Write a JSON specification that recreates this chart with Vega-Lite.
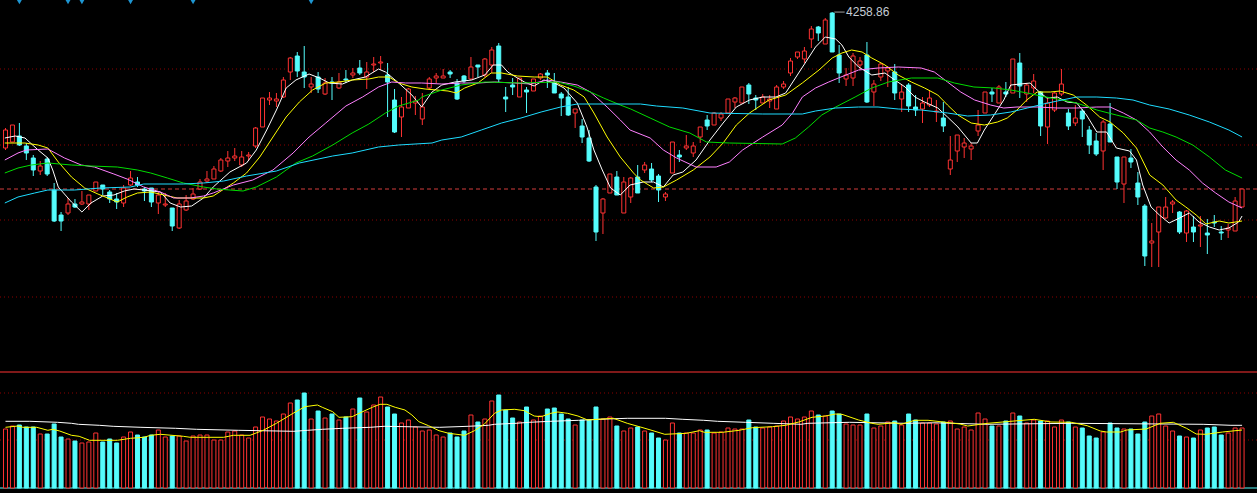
{
  "$schema": "https://vega.github.io/schema/vega-lite/v6.json",
  "description": "K-line chart with moving averages and volume panel",
  "width": 1257,
  "height": 493,
  "padding": 0,
  "autosize": {"type": "none"},
  "background": "#000000",
  "config": {"view": {"stroke": null}},
  "datasets": {
    "k": [
      {"i":0,"o":3987,"h":4027,"l":3983,"c":4023,"v":59,"d":"u"},
      {"i":1,"o":3999,"h":4033,"l":3999,"c":4033,"v":62,"d":"u"},
      {"i":2,"o":4011,"h":4037,"l":3991,"c":3993,"v":63,"d":"d"},
      {"i":3,"o":3991,"h":3997,"l":3963,"c":3977,"v":61,"d":"d"},
      {"i":4,"o":3967,"h":3973,"l":3931,"c":3943,"v":61,"d":"d"},
      {"i":5,"o":3941,"h":3961,"l":3933,"c":3951,"v":54,"d":"u"},
      {"i":6,"o":3965,"h":3969,"l":3931,"c":3935,"v":54,"d":"d"},
      {"i":7,"o":3903,"h":3917,"l":3839,"c":3841,"v":64,"d":"d"},
      {"i":8,"o":3853,"h":3859,"l":3821,"c":3841,"v":51,"d":"d"},
      {"i":9,"o":3857,"h":3887,"l":3853,"c":3875,"v":49,"d":"u"},
      {"i":10,"o":3875,"h":3885,"l":3867,"c":3869,"v":47,"d":"d"},
      {"i":11,"o":3875,"h":3901,"l":3873,"c":3879,"v":45,"d":"u"},
      {"i":12,"o":3875,"h":3893,"l":3863,"c":3893,"v":46,"d":"u"},
      {"i":13,"o":3901,"h":3919,"l":3901,"c":3919,"v":55,"d":"u"},
      {"i":14,"o":3913,"h":3913,"l":3893,"c":3905,"v":46,"d":"d"},
      {"i":15,"o":3899,"h":3903,"l":3877,"c":3885,"v":49,"d":"d"},
      {"i":16,"o":3885,"h":3897,"l":3865,"c":3879,"v":45,"d":"d"},
      {"i":17,"o":3877,"h":3913,"l":3869,"c":3907,"v":51,"d":"u"},
      {"i":18,"o":3913,"h":3941,"l":3911,"c":3927,"v":56,"d":"u"},
      {"i":19,"o":3919,"h":3929,"l":3909,"c":3913,"v":53,"d":"d"},
      {"i":20,"o":3905,"h":3909,"l":3881,"c":3901,"v":51,"d":"d"},
      {"i":21,"o":3907,"h":3907,"l":3869,"c":3879,"v":53,"d":"d"},
      {"i":22,"o":3877,"h":3899,"l":3855,"c":3893,"v":58,"d":"u"},
      {"i":23,"o":3873,"h":3897,"l":3869,"c":3875,"v":51,"d":"u"},
      {"i":24,"o":3867,"h":3867,"l":3821,"c":3831,"v":52,"d":"d"},
      {"i":25,"o":3827,"h":3883,"l":3825,"c":3875,"v":52,"d":"u"},
      {"i":26,"o":3863,"h":3893,"l":3861,"c":3881,"v":47,"d":"u"},
      {"i":27,"o":3885,"h":3907,"l":3883,"c":3895,"v":52,"d":"u"},
      {"i":28,"o":3905,"h":3925,"l":3903,"c":3919,"v":53,"d":"u"},
      {"i":29,"o":3921,"h":3941,"l":3917,"c":3925,"v":53,"d":"u"},
      {"i":30,"o":3925,"h":3951,"l":3925,"c":3945,"v":48,"d":"u"},
      {"i":31,"o":3941,"h":3967,"l":3939,"c":3963,"v":48,"d":"u"},
      {"i":32,"o":3961,"h":3981,"l":3949,"c":3967,"v":56,"d":"u"},
      {"i":33,"o":3967,"h":3987,"l":3961,"c":3971,"v":57,"d":"u"},
      {"i":34,"o":3953,"h":3981,"l":3949,"c":3969,"v":53,"d":"u"},
      {"i":35,"o":3971,"h":3979,"l":3961,"c":3973,"v":50,"d":"u"},
      {"i":36,"o":3991,"h":4029,"l":3987,"c":4027,"v":61,"d":"u"},
      {"i":37,"o":4029,"h":4087,"l":4029,"c":4087,"v":71,"d":"u"},
      {"i":38,"o":4083,"h":4099,"l":4073,"c":4087,"v":69,"d":"u"},
      {"i":39,"o":4081,"h":4097,"l":4069,"c":4085,"v":67,"d":"u"},
      {"i":40,"o":4089,"h":4129,"l":4087,"c":4123,"v":74,"d":"u"},
      {"i":41,"o":4139,"h":4169,"l":4123,"c":4167,"v":85,"d":"u"},
      {"i":42,"o":4171,"h":4179,"l":4129,"c":4141,"v":88,"d":"d"},
      {"i":43,"o":4139,"h":4191,"l":4107,"c":4129,"v":95,"d":"d"},
      {"i":44,"o":4109,"h":4129,"l":4097,"c":4115,"v":69,"d":"u"},
      {"i":45,"o":4129,"h":4139,"l":4097,"c":4105,"v":77,"d":"d"},
      {"i":46,"o":4095,"h":4127,"l":4093,"c":4117,"v":70,"d":"u"},
      {"i":47,"o":4119,"h":4129,"l":4083,"c":4117,"v":74,"d":"d"},
      {"i":48,"o":4107,"h":4137,"l":4105,"c":4119,"v":68,"d":"u"},
      {"i":49,"o":4125,"h":4143,"l":4117,"c":4123,"v":71,"d":"d"},
      {"i":50,"o":4133,"h":4147,"l":4127,"c":4137,"v":79,"d":"u"},
      {"i":51,"o":4147,"h":4163,"l":4133,"c":4137,"v":90,"d":"d"},
      {"i":52,"o":4129,"h":4159,"l":4105,"c":4139,"v":76,"d":"u"},
      {"i":53,"o":4153,"h":4169,"l":4139,"c":4155,"v":83,"d":"u"},
      {"i":54,"o":4157,"h":4171,"l":4143,"c":4159,"v":91,"d":"u"},
      {"i":55,"o":4133,"h":4157,"l":4049,"c":4119,"v":81,"d":"d"},
      {"i":56,"o":4083,"h":4105,"l":4017,"c":4019,"v":74,"d":"d"},
      {"i":57,"o":4049,"h":4089,"l":4009,"c":4069,"v":65,"d":"u"},
      {"i":58,"o":4067,"h":4107,"l":4067,"c":4105,"v":68,"d":"u"},
      {"i":59,"o":4077,"h":4091,"l":4053,"c":4081,"v":61,"d":"u"},
      {"i":60,"o":4045,"h":4097,"l":4033,"c":4069,"v":57,"d":"u"},
      {"i":61,"o":4107,"h":4129,"l":4103,"c":4125,"v":58,"d":"u"},
      {"i":62,"o":4127,"h":4137,"l":4117,"c":4131,"v":53,"d":"u"},
      {"i":63,"o":4127,"h":4145,"l":4127,"c":4131,"v":51,"d":"u"},
      {"i":64,"o":4139,"h":4143,"l":4127,"c":4135,"v":55,"d":"d"},
      {"i":65,"o":4117,"h":4125,"l":4083,"c":4085,"v":51,"d":"d"},
      {"i":66,"o":4131,"h":4133,"l":4117,"c":4121,"v":57,"d":"d"},
      {"i":67,"o":4125,"h":4169,"l":4123,"c":4149,"v":73,"d":"u"},
      {"i":68,"o":4153,"h":4153,"l":4129,"c":4149,"v":66,"d":"d"},
      {"i":69,"o":4133,"h":4167,"l":4129,"c":4165,"v":69,"d":"u"},
      {"i":70,"o":4153,"h":4189,"l":4137,"c":4183,"v":87,"d":"u"},
      {"i":71,"o":4191,"h":4197,"l":4117,"c":4125,"v":93,"d":"d"},
      {"i":72,"o":4089,"h":4109,"l":4059,"c":4085,"v":78,"d":"d"},
      {"i":73,"o":4113,"h":4127,"l":4093,"c":4109,"v":70,"d":"d"},
      {"i":74,"o":4089,"h":4127,"l":4089,"c":4127,"v":66,"d":"u"},
      {"i":75,"o":4103,"h":4109,"l":4057,"c":4099,"v":81,"d":"d"},
      {"i":76,"o":4101,"h":4125,"l":4101,"c":4125,"v":68,"d":"u"},
      {"i":77,"o":4127,"h":4137,"l":4123,"c":4135,"v":72,"d":"u"},
      {"i":78,"o":4137,"h":4143,"l":4107,"c":4133,"v":79,"d":"d"},
      {"i":79,"o":4117,"h":4137,"l":4097,"c":4097,"v":80,"d":"d"},
      {"i":80,"o":4095,"h":4099,"l":4051,"c":4087,"v":74,"d":"d"},
      {"i":81,"o":4089,"h":4109,"l":4051,"c":4053,"v":69,"d":"d"},
      {"i":82,"o":4057,"h":4065,"l":4027,"c":4065,"v":63,"d":"u"},
      {"i":83,"o":4031,"h":4045,"l":3997,"c":4009,"v":68,"d":"d"},
      {"i":84,"o":4007,"h":4023,"l":3959,"c":3961,"v":68,"d":"d"},
      {"i":85,"o":3909,"h":3913,"l":3801,"c":3819,"v":81,"d":"d"},
      {"i":86,"o":3857,"h":3887,"l":3815,"c":3885,"v":69,"d":"u"},
      {"i":87,"o":3897,"h":3935,"l":3897,"c":3935,"v":71,"d":"u"},
      {"i":88,"o":3929,"h":3941,"l":3893,"c":3893,"v":62,"d":"d"},
      {"i":89,"o":3857,"h":3929,"l":3857,"c":3919,"v":57,"d":"u"},
      {"i":90,"o":3889,"h":3929,"l":3877,"c":3927,"v":60,"d":"u"},
      {"i":91,"o":3929,"h":3953,"l":3897,"c":3897,"v":61,"d":"d"},
      {"i":92,"o":3943,"h":3959,"l":3937,"c":3953,"v":57,"d":"u"},
      {"i":93,"o":3945,"h":3957,"l":3919,"c":3923,"v":55,"d":"d"},
      {"i":94,"o":3931,"h":3935,"l":3879,"c":3903,"v":50,"d":"d"},
      {"i":95,"o":3889,"h":3899,"l":3881,"c":3895,"v":48,"d":"u"},
      {"i":96,"o":3937,"h":3999,"l":3937,"c":3999,"v":65,"d":"u"},
      {"i":97,"o":3973,"h":3983,"l":3959,"c":3969,"v":55,"d":"d"},
      {"i":98,"o":3987,"h":4013,"l":3983,"c":3991,"v":55,"d":"u"},
      {"i":99,"o":3977,"h":3999,"l":3969,"c":3991,"v":55,"d":"u"},
      {"i":100,"o":4009,"h":4029,"l":3997,"c":4029,"v":58,"d":"u"},
      {"i":101,"o":4043,"h":4053,"l":4023,"c":4031,"v":58,"d":"d"},
      {"i":102,"o":4033,"h":4059,"l":4033,"c":4057,"v":55,"d":"u"},
      {"i":103,"o":4047,"h":4059,"l":4041,"c":4055,"v":56,"d":"u"},
      {"i":104,"o":4057,"h":4085,"l":4057,"c":4085,"v":60,"d":"u"},
      {"i":105,"o":4079,"h":4089,"l":4067,"c":4087,"v":59,"d":"u"},
      {"i":106,"o":4077,"h":4109,"l":4077,"c":4109,"v":59,"d":"u"},
      {"i":107,"o":4113,"h":4117,"l":4075,"c":4095,"v":68,"d":"d"},
      {"i":108,"o":4087,"h":4093,"l":4063,"c":4083,"v":61,"d":"d"},
      {"i":109,"o":4077,"h":4095,"l":4077,"c":4089,"v":60,"d":"u"},
      {"i":110,"o":4081,"h":4093,"l":4067,"c":4085,"v":61,"d":"u"},
      {"i":111,"o":4065,"h":4113,"l":4065,"c":4109,"v":62,"d":"u"},
      {"i":112,"o":4109,"h":4121,"l":4105,"c":4115,"v":67,"d":"u"},
      {"i":113,"o":4137,"h":4167,"l":4131,"c":4161,"v":71,"d":"u"},
      {"i":114,"o":4169,"h":4179,"l":4165,"c":4179,"v":69,"d":"u"},
      {"i":115,"o":4165,"h":4189,"l":4157,"c":4181,"v":71,"d":"u"},
      {"i":116,"o":4205,"h":4231,"l":4187,"c":4225,"v":77,"d":"u"},
      {"i":117,"o":4229,"h":4231,"l":4201,"c":4217,"v":73,"d":"d"},
      {"i":118,"o":4195,"h":4247,"l":4195,"c":4243,"v":72,"d":"u"},
      {"i":119,"o":4257,"h":4258.86,"l":4179,"c":4179,"v":77,"d":"d"},
      {"i":120,"o":4173,"h":4193,"l":4117,"c":4137,"v":74,"d":"d"},
      {"i":121,"o":4125,"h":4147,"l":4111,"c":4133,"v":64,"d":"u"},
      {"i":122,"o":4127,"h":4177,"l":4111,"c":4171,"v":63,"d":"u"},
      {"i":123,"o":4153,"h":4169,"l":4143,"c":4161,"v":63,"d":"u"},
      {"i":124,"o":4173,"h":4199,"l":4077,"c":4079,"v":74,"d":"d"},
      {"i":125,"o":4099,"h":4123,"l":4071,"c":4115,"v":60,"d":"u"},
      {"i":126,"o":4129,"h":4157,"l":4121,"c":4155,"v":62,"d":"u"},
      {"i":127,"o":4141,"h":4151,"l":4109,"c":4147,"v":66,"d":"u"},
      {"i":128,"o":4139,"h":4155,"l":4083,"c":4097,"v":67,"d":"d"},
      {"i":129,"o":4085,"h":4113,"l":4059,"c":4099,"v":63,"d":"u"},
      {"i":130,"o":4113,"h":4117,"l":4059,"c":4071,"v":74,"d":"d"},
      {"i":131,"o":4069,"h":4093,"l":4051,"c":4063,"v":68,"d":"d"},
      {"i":132,"o":4065,"h":4089,"l":4037,"c":4077,"v":65,"d":"u"},
      {"i":133,"o":4073,"h":4103,"l":4069,"c":4087,"v":65,"d":"u"},
      {"i":134,"o":4059,"h":4083,"l":4039,"c":4061,"v":64,"d":"u"},
      {"i":135,"o":4047,"h":4079,"l":4019,"c":4031,"v":66,"d":"d"},
      {"i":136,"o":3945,"h":4011,"l":3933,"c":3963,"v":67,"d":"u"},
      {"i":137,"o":3981,"h":4013,"l":3959,"c":4013,"v":59,"d":"u"},
      {"i":138,"o":3989,"h":4007,"l":3967,"c":3997,"v":61,"d":"u"},
      {"i":139,"o":3985,"h":3997,"l":3963,"c":3991,"v":58,"d":"u"},
      {"i":140,"o":4021,"h":4063,"l":4011,"c":4033,"v":75,"d":"u"},
      {"i":141,"o":4057,"h":4099,"l":4057,"c":4099,"v":69,"d":"u"},
      {"i":142,"o":4099,"h":4107,"l":4079,"c":4095,"v":62,"d":"d"},
      {"i":143,"o":4077,"h":4113,"l":4077,"c":4109,"v":62,"d":"u"},
      {"i":144,"o":4099,"h":4119,"l":4089,"c":4095,"v":67,"d":"d"},
      {"i":145,"o":4097,"h":4165,"l":4097,"c":4165,"v":75,"d":"u"},
      {"i":146,"o":4157,"h":4177,"l":4087,"c":4111,"v":72,"d":"d"},
      {"i":147,"o":4095,"h":4117,"l":4079,"c":4113,"v":65,"d":"u"},
      {"i":148,"o":4107,"h":4135,"l":4097,"c":4121,"v":68,"d":"u"},
      {"i":149,"o":4099,"h":4101,"l":4011,"c":4031,"v":67,"d":"d"},
      {"i":150,"o":4029,"h":4087,"l":3995,"c":4077,"v":67,"d":"u"},
      {"i":151,"o":4063,"h":4099,"l":4059,"c":4097,"v":61,"d":"u"},
      {"i":152,"o":4095,"h":4145,"l":4091,"c":4115,"v":68,"d":"u"},
      {"i":153,"o":4057,"h":4065,"l":4023,"c":4031,"v":66,"d":"d"},
      {"i":154,"o":4037,"h":4073,"l":4031,"c":4047,"v":61,"d":"u"},
      {"i":155,"o":4061,"h":4065,"l":4009,"c":4045,"v":60,"d":"d"},
      {"i":156,"o":4023,"h":4031,"l":3975,"c":3993,"v":52,"d":"d"},
      {"i":157,"o":4001,"h":4017,"l":3971,"c":3975,"v":50,"d":"d"},
      {"i":158,"o":3981,"h":4043,"l":3943,"c":4039,"v":56,"d":"u"},
      {"i":159,"o":4035,"h":4077,"l":3999,"c":3999,"v":65,"d":"d"},
      {"i":160,"o":3969,"h":3969,"l":3905,"c":3919,"v":60,"d":"d"},
      {"i":161,"o":3915,"h":3969,"l":3877,"c":3969,"v":59,"d":"u"},
      {"i":162,"o":3967,"h":3985,"l":3947,"c":3959,"v":59,"d":"d"},
      {"i":163,"o":3917,"h":3939,"l":3873,"c":3889,"v":54,"d":"d"},
      {"i":164,"o":3871,"h":3875,"l":3751,"c":3771,"v":66,"d":"d"},
      {"i":165,"o":3797,"h":3837,"l":3749,"c":3801,"v":72,"d":"u"},
      {"i":166,"o":3819,"h":3869,"l":3749,"c":3869,"v":74,"d":"u"},
      {"i":167,"o":3847,"h":3889,"l":3845,"c":3869,"v":62,"d":"u"},
      {"i":168,"o":3875,"h":3883,"l":3857,"c":3879,"v":57,"d":"u"},
      {"i":169,"o":3859,"h":3861,"l":3815,"c":3819,"v":52,"d":"d"},
      {"i":170,"o":3817,"h":3863,"l":3799,"c":3861,"v":51,"d":"u"},
      {"i":171,"o":3829,"h":3851,"l":3799,"c":3819,"v":50,"d":"d"},
      {"i":172,"o":3831,"h":3851,"l":3789,"c":3833,"v":58,"d":"u"},
      {"i":173,"o":3817,"h":3845,"l":3775,"c":3813,"v":60,"d":"d"},
      {"i":174,"o":3839,"h":3853,"l":3829,"c":3837,"v":61,"d":"d"},
      {"i":175,"o":3819,"h":3831,"l":3803,"c":3817,"v":53,"d":"d"},
      {"i":176,"o":3823,"h":3835,"l":3807,"c":3827,"v":55,"d":"u"},
      {"i":177,"o":3821,"h":3889,"l":3821,"c":3881,"v":60,"d":"u"},
      {"i":178,"o":3869,"h":3905,"l":3869,"c":3905,"v":60,"d":"u"}
    ],
    "ma": [
      {"i":-0.1,"m":"MA5","p":4007},{"i":1.4,"m":"MA5","p":4011},{"i":2.8,"m":"MA5","p":4007},{"i":4.7,"m":"MA5","p":3983},
      {"i":6.1,"m":"MA5","p":3967},{"i":6.8,"m":"MA5","p":3943},{"i":7.6,"m":"MA5","p":3909},{"i":9.5,"m":"MA5","p":3879},
      {"i":11,"m":"MA5","p":3859},{"i":12.3,"m":"MA5","p":3877},{"i":14,"m":"MA5","p":3891},{"i":15.6,"m":"MA5","p":3893},
      {"i":17.1,"m":"MA5","p":3901},{"i":18.5,"m":"MA5","p":3905},{"i":19.9,"m":"MA5","p":3903},{"i":22.3,"m":"MA5","p":3899},
      {"i":23.7,"m":"MA5","p":3877},{"i":25.2,"m":"MA5","p":3869},{"i":26.8,"m":"MA5","p":3871},{"i":28.5,"m":"MA5","p":3887},
      {"i":29.9,"m":"MA5","p":3909},{"i":32.3,"m":"MA5","p":3939},{"i":34.7,"m":"MA5","p":3957},{"i":36.1,"m":"MA5","p":3983},
      {"i":37.6,"m":"MA5","p":4023},{"i":39,"m":"MA5","p":4063},{"i":40.4,"m":"MA5","p":4107},{"i":41.8,"m":"MA5","p":4123},
      {"i":43.7,"m":"MA5","p":4135},{"i":45.2,"m":"MA5","p":4127},{"i":46.6,"m":"MA5","p":4117},{"i":48.5,"m":"MA5","p":4115},
      {"i":49.9,"m":"MA5","p":4123},{"i":51.8,"m":"MA5","p":4129},{"i":53.7,"m":"MA5","p":4145},{"i":54.7,"m":"MA5","p":4139},
      {"i":56.6,"m":"MA5","p":4117},{"i":58.5,"m":"MA5","p":4093},{"i":59.9,"m":"MA5","p":4069},{"i":61.4,"m":"MA5","p":4099},
      {"i":62.8,"m":"MA5","p":4113},{"i":64.7,"m":"MA5","p":4119},{"i":67.1,"m":"MA5","p":4123},{"i":69,"m":"MA5","p":4133},
      {"i":70.2,"m":"MA5","p":4153},{"i":71.4,"m":"MA5","p":4153},{"i":72.3,"m":"MA5","p":4139},{"i":73.7,"m":"MA5","p":4127},
      {"i":74.7,"m":"MA5","p":4119},{"i":76.1,"m":"MA5","p":4111},{"i":77.5,"m":"MA5","p":4123},{"i":79,"m":"MA5","p":4117},
      {"i":80.4,"m":"MA5","p":4107},{"i":82.3,"m":"MA5","p":4077},{"i":83.7,"m":"MA5","p":4029},{"i":84.7,"m":"MA5","p":3983},
      {"i":85.9,"m":"MA5","p":3943},{"i":87.1,"m":"MA5","p":3907},{"i":88.5,"m":"MA5","p":3893},{"i":89.9,"m":"MA5","p":3913},
      {"i":91.8,"m":"MA5","p":3919},{"i":93.3,"m":"MA5","p":3919},{"i":94.7,"m":"MA5","p":3909},{"i":96.1,"m":"MA5","p":3933},
      {"i":97.5,"m":"MA5","p":3939},{"i":99.4,"m":"MA5","p":3963},{"i":101.4,"m":"MA5","p":4003},{"i":103.3,"m":"MA5","p":4037},
      {"i":105.2,"m":"MA5","p":4069},{"i":107.1,"m":"MA5","p":4083},{"i":109,"m":"MA5","p":4089},{"i":110.9,"m":"MA5","p":4089},
      {"i":112.3,"m":"MA5","p":4097},{"i":113.7,"m":"MA5","p":4127},{"i":115.2,"m":"MA5","p":4159},{"i":116.6,"m":"MA5","p":4189},
      {"i":118,"m":"MA5","p":4209},{"i":119.5,"m":"MA5","p":4205},{"i":120.4,"m":"MA5","p":4193},{"i":121.4,"m":"MA5","p":4169},
      {"i":122.8,"m":"MA5","p":4149},{"i":124.7,"m":"MA5","p":4133},{"i":126.6,"m":"MA5","p":4137},{"i":128,"m":"MA5","p":4123},
      {"i":129.5,"m":"MA5","p":4109},{"i":130.9,"m":"MA5","p":4089},{"i":132.3,"m":"MA5","p":4079},{"i":134.2,"m":"MA5","p":4067},
      {"i":135.6,"m":"MA5","p":4049},{"i":137.1,"m":"MA5","p":4029},{"i":139,"m":"MA5","p":3997},{"i":139.9,"m":"MA5","p":3997},
      {"i":140.9,"m":"MA5","p":4023},{"i":142.3,"m":"MA5","p":4053},{"i":143.7,"m":"MA5","p":4083},{"i":144.7,"m":"MA5","p":4113},
      {"i":146.1,"m":"MA5","p":4115},{"i":147.5,"m":"MA5","p":4117},{"i":148.5,"m":"MA5","p":4103},{"i":149.9,"m":"MA5","p":4087},
      {"i":151.4,"m":"MA5","p":4089},{"i":152.8,"m":"MA5","p":4079},{"i":154.2,"m":"MA5","p":4077},{"i":155.6,"m":"MA5","p":4053},
      {"i":157.1,"m":"MA5","p":4019},{"i":158.5,"m":"MA5","p":4019},{"i":159.9,"m":"MA5","p":3987},{"i":161.8,"m":"MA5","p":3981},
      {"i":162.8,"m":"MA5","p":3963},{"i":163.7,"m":"MA5","p":3913},{"i":164.9,"m":"MA5","p":3869},{"i":166.1,"m":"MA5","p":3853},
      {"i":167.5,"m":"MA5","p":3837},{"i":169,"m":"MA5","p":3847},{"i":170.4,"m":"MA5","p":3857},{"i":171.8,"m":"MA5","p":3839},
      {"i":173.3,"m":"MA5","p":3829},{"i":174.7,"m":"MA5","p":3823},{"i":176.1,"m":"MA5","p":3827},{"i":177.5,"m":"MA5","p":3839},
      {"i":178,"m":"MA5","p":3851},

      {"i":-0.1,"m":"MA10","p":3997},{"i":2.8,"m":"MA10","p":3997},{"i":4.7,"m":"MA10","p":3993},{"i":6.1,"m":"MA10","p":3987},
      {"i":7.6,"m":"MA10","p":3959},{"i":9.5,"m":"MA10","p":3929},{"i":11.4,"m":"MA10","p":3907},{"i":13.3,"m":"MA10","p":3895},
      {"i":14.7,"m":"MA10","p":3887},{"i":16.1,"m":"MA10","p":3879},{"i":17.5,"m":"MA10","p":3889},{"i":19,"m":"MA10","p":3897},
      {"i":20.9,"m":"MA10","p":3899},{"i":22.8,"m":"MA10","p":3893},{"i":24.7,"m":"MA10","p":3887},{"i":28.5,"m":"MA10","p":3887},
      {"i":29.9,"m":"MA10","p":3891},{"i":32.8,"m":"MA10","p":3917},{"i":34.7,"m":"MA10","p":3937},{"i":36.6,"m":"MA10","p":3969},
      {"i":38.5,"m":"MA10","p":4009},{"i":40.4,"m":"MA10","p":4049},{"i":42.3,"m":"MA10","p":4079},{"i":44.2,"m":"MA10","p":4103},
      {"i":46.1,"m":"MA10","p":4117},{"i":48,"m":"MA10","p":4119},{"i":49.9,"m":"MA10","p":4123},{"i":52.3,"m":"MA10","p":4125},
      {"i":53.7,"m":"MA10","p":4129},{"i":55.2,"m":"MA10","p":4129},{"i":56.6,"m":"MA10","p":4117},{"i":58.5,"m":"MA10","p":4109},
      {"i":60.4,"m":"MA10","p":4105},{"i":63.7,"m":"MA10","p":4101},{"i":64.9,"m":"MA10","p":4097},{"i":66.1,"m":"MA10","p":4107},
      {"i":68,"m":"MA10","p":4117},{"i":69.9,"m":"MA10","p":4137},{"i":71.4,"m":"MA10","p":4137},{"i":73.7,"m":"MA10","p":4131},
      {"i":76.1,"m":"MA10","p":4129},{"i":78,"m":"MA10","p":4129},{"i":79.9,"m":"MA10","p":4113},{"i":81.8,"m":"MA10","p":4103},
      {"i":83.3,"m":"MA10","p":4089},{"i":84.7,"m":"MA10","p":4057},{"i":86.6,"m":"MA10","p":4009},{"i":88.5,"m":"MA10","p":3969},
      {"i":90.4,"m":"MA10","p":3937},{"i":91.4,"m":"MA10","p":3923},{"i":93.3,"m":"MA10","p":3907},{"i":94.7,"m":"MA10","p":3909},
      {"i":96.6,"m":"MA10","p":3923},{"i":99,"m":"MA10","p":3943},{"i":101.4,"m":"MA10","p":3969},{"i":103.3,"m":"MA10","p":3997},
      {"i":105.2,"m":"MA10","p":4033},{"i":107.1,"m":"MA10","p":4057},{"i":109.9,"m":"MA10","p":4083},{"i":112.3,"m":"MA10","p":4093},
      {"i":114.7,"m":"MA10","p":4117},{"i":117.1,"m":"MA10","p":4143},{"i":119,"m":"MA10","p":4167},{"i":120.4,"m":"MA10","p":4177},
      {"i":121.8,"m":"MA10","p":4183},{"i":123.3,"m":"MA10","p":4179},{"i":124.7,"m":"MA10","p":4167},{"i":126.6,"m":"MA10","p":4153},
      {"i":128.5,"m":"MA10","p":4133},{"i":130.4,"m":"MA10","p":4119},{"i":132.3,"m":"MA10","p":4107},{"i":134.2,"m":"MA10","p":4093},
      {"i":135.6,"m":"MA10","p":4073},{"i":137.1,"m":"MA10","p":4053},{"i":139,"m":"MA10","p":4037},{"i":140.9,"m":"MA10","p":4033},
      {"i":142.8,"m":"MA10","p":4039},{"i":144.2,"m":"MA10","p":4047},{"i":145.6,"m":"MA10","p":4063},{"i":147,"m":"MA10","p":4083},
      {"i":148.5,"m":"MA10","p":4099},{"i":150.4,"m":"MA10","p":4099},{"i":151.8,"m":"MA10","p":4101},{"i":153.7,"m":"MA10","p":4093},
      {"i":155.6,"m":"MA10","p":4073},{"i":157.5,"m":"MA10","p":4049},{"i":159,"m":"MA10","p":4039},{"i":160.9,"m":"MA10","p":4017},
      {"i":162.8,"m":"MA10","p":3987},{"i":164.7,"m":"MA10","p":3933},{"i":166.6,"m":"MA10","p":3913},{"i":168.5,"m":"MA10","p":3883},
      {"i":169.9,"m":"MA10","p":3869},{"i":171.4,"m":"MA10","p":3853},{"i":172.8,"m":"MA10","p":3835},{"i":174.7,"m":"MA10","p":3841},
      {"i":176.1,"m":"MA10","p":3837},{"i":178,"m":"MA10","p":3841},

      {"i":-0.1,"m":"MA20","p":3963},{"i":1.8,"m":"MA20","p":3977},{"i":3,"m":"MA20","p":3983},{"i":6.1,"m":"MA20","p":3985},
      {"i":8.5,"m":"MA20","p":3967},{"i":10.9,"m":"MA20","p":3953},{"i":12.8,"m":"MA20","p":3949},{"i":15.6,"m":"MA20","p":3935},
      {"i":17.5,"m":"MA20","p":3925},{"i":19.9,"m":"MA20","p":3909},{"i":22.3,"m":"MA20","p":3899},{"i":24.2,"m":"MA20","p":3887},
      {"i":26.6,"m":"MA20","p":3887},{"i":28.5,"m":"MA20","p":3891},{"i":29.9,"m":"MA20","p":3897},{"i":32.8,"m":"MA20","p":3913},
      {"i":35.6,"m":"MA20","p":3923},{"i":38.5,"m":"MA20","p":3943},{"i":41.4,"m":"MA20","p":3977},{"i":43.7,"m":"MA20","p":4009},
      {"i":46.1,"m":"MA20","p":4037},{"i":49,"m":"MA20","p":4071},{"i":51.4,"m":"MA20","p":4089},{"i":53.7,"m":"MA20","p":4109},
      {"i":55.6,"m":"MA20","p":4119},{"i":57.6,"m":"MA20","p":4117},{"i":59.9,"m":"MA20","p":4117},{"i":62.8,"m":"MA20","p":4115},
      {"i":65.6,"m":"MA20","p":4117},{"i":68,"m":"MA20","p":4117},{"i":70.4,"m":"MA20","p":4119},{"i":73.3,"m":"MA20","p":4117},
      {"i":75.6,"m":"MA20","p":4115},{"i":78,"m":"MA20","p":4123},{"i":79.9,"m":"MA20","p":4119},{"i":82.3,"m":"MA20","p":4113},
      {"i":84.2,"m":"MA20","p":4099},{"i":86.6,"m":"MA20","p":4069},{"i":88.5,"m":"MA20","p":4043},{"i":89.9,"m":"MA20","p":4023},
      {"i":92.8,"m":"MA20","p":4007},{"i":94.7,"m":"MA20","p":3983},{"i":96.6,"m":"MA20","p":3967},{"i":99.4,"m":"MA20","p":3949},
      {"i":102.3,"m":"MA20","p":3949},{"i":104.2,"m":"MA20","p":3959},{"i":106.1,"m":"MA20","p":3983},{"i":109,"m":"MA20","p":4009},
      {"i":111.8,"m":"MA20","p":4033},{"i":113.3,"m":"MA20","p":4057},{"i":114.7,"m":"MA20","p":4089},{"i":116.6,"m":"MA20","p":4107},
      {"i":118.5,"m":"MA20","p":4119},{"i":119.9,"m":"MA20","p":4127},{"i":122.8,"m":"MA20","p":4143},{"i":125.6,"m":"MA20","p":4147},
      {"i":128.5,"m":"MA20","p":4149},{"i":131.8,"m":"MA20","p":4147},{"i":133.7,"m":"MA20","p":4139},{"i":135.6,"m":"MA20","p":4119},
      {"i":137.5,"m":"MA20","p":4099},{"i":139.5,"m":"MA20","p":4083},{"i":141.8,"m":"MA20","p":4073},{"i":143.7,"m":"MA20","p":4067},
      {"i":145.6,"m":"MA20","p":4069},{"i":148.5,"m":"MA20","p":4069},{"i":151.4,"m":"MA20","p":4067},{"i":154.2,"m":"MA20","p":4067},
      {"i":157.1,"m":"MA20","p":4069},{"i":159,"m":"MA20","p":4069},{"i":160.9,"m":"MA20","p":4057},{"i":162.8,"m":"MA20","p":4043},
      {"i":164.7,"m":"MA20","p":4019},{"i":166.6,"m":"MA20","p":3989},{"i":168.5,"m":"MA20","p":3963},{"i":170.4,"m":"MA20","p":3943},
      {"i":172.3,"m":"MA20","p":3917},{"i":174.2,"m":"MA20","p":3897},{"i":176.1,"m":"MA20","p":3879},{"i":178,"m":"MA20","p":3867},

      {"i":-0.1,"m":"MA30","p":3937},{"i":1.8,"m":"MA30","p":3947},{"i":3.7,"m":"MA30","p":3953},{"i":6.1,"m":"MA30","p":3957},
      {"i":9.5,"m":"MA30","p":3953},{"i":12.3,"m":"MA30","p":3951},{"i":16.1,"m":"MA30","p":3949},{"i":19,"m":"MA30","p":3943},
      {"i":20.9,"m":"MA30","p":3937},{"i":23.3,"m":"MA30","p":3927},{"i":25.6,"m":"MA30","p":3917},{"i":28.5,"m":"MA30","p":3909},
      {"i":30.4,"m":"MA30","p":3905},{"i":34.2,"m":"MA30","p":3901},{"i":36.1,"m":"MA30","p":3909},{"i":39,"m":"MA30","p":3929},
      {"i":41.8,"m":"MA30","p":3957},{"i":44.2,"m":"MA30","p":3971},{"i":47.1,"m":"MA30","p":3993},{"i":49.9,"m":"MA30","p":4017},
      {"i":52.3,"m":"MA30","p":4035},{"i":54.7,"m":"MA30","p":4057},{"i":56.6,"m":"MA30","p":4071},{"i":59.5,"m":"MA30","p":4083},
      {"i":59.9,"m":"MA30","p":4089},{"i":62.8,"m":"MA30","p":4103},{"i":65.6,"m":"MA30","p":4113},{"i":69,"m":"MA30","p":4119},
      {"i":74.2,"m":"MA30","p":4117},{"i":79.5,"m":"MA30","p":4119},{"i":81.8,"m":"MA30","p":4111},{"i":84.2,"m":"MA30","p":4099},
      {"i":86.1,"m":"MA30","p":4087},{"i":88.5,"m":"MA30","p":4073},{"i":90,"m":"MA30","p":4065},{"i":92.8,"m":"MA30","p":4047},
      {"i":95.6,"m":"MA30","p":4029},{"i":98.5,"m":"MA30","p":4017},{"i":100.9,"m":"MA30","p":3999},{"i":104.2,"m":"MA30","p":3997},
      {"i":111.8,"m":"MA30","p":3995},{"i":113.7,"m":"MA30","p":4007},{"i":115.6,"m":"MA30","p":4029},{"i":117.5,"m":"MA30","p":4053},
      {"i":119.5,"m":"MA30","p":4069},{"i":122.3,"m":"MA30","p":4089},{"i":124.7,"m":"MA30","p":4107},{"i":127.1,"m":"MA30","p":4119},
      {"i":130.4,"m":"MA30","p":4127},{"i":134.2,"m":"MA30","p":4127},{"i":136.6,"m":"MA30","p":4117},{"i":139.4,"m":"MA30","p":4109},
      {"i":142.3,"m":"MA30","p":4107},{"i":144.7,"m":"MA30","p":4103},{"i":147.1,"m":"MA30","p":4097},{"i":149,"m":"MA30","p":4091},
      {"i":151.4,"m":"MA30","p":4085},{"i":154.2,"m":"MA30","p":4077},{"i":157.1,"m":"MA30","p":4063},{"i":159.9,"m":"MA30","p":4053},
      {"i":162.8,"m":"MA30","p":4043},{"i":164.7,"m":"MA30","p":4027},{"i":166.6,"m":"MA30","p":4019},{"i":168.5,"m":"MA30","p":4009},
      {"i":170.9,"m":"MA30","p":3993},{"i":173.3,"m":"MA30","p":3969},{"i":175.6,"m":"MA30","p":3943},{"i":178,"m":"MA30","p":3927},

      {"i":-0.1,"m":"MA60","p":3877},{"i":1.8,"m":"MA60","p":3889},{"i":4.2,"m":"MA60","p":3897},{"i":6.1,"m":"MA60","p":3903},
      {"i":9.9,"m":"MA60","p":3903},{"i":13.7,"m":"MA60","p":3907},{"i":18,"m":"MA60","p":3909},{"i":19.9,"m":"MA60","p":3915},
      {"i":25.6,"m":"MA60","p":3915},{"i":28.5,"m":"MA60","p":3917},{"i":31.4,"m":"MA60","p":3921},{"i":34.7,"m":"MA60","p":3931},
      {"i":39,"m":"MA60","p":3941},{"i":42.3,"m":"MA60","p":3957},{"i":47.1,"m":"MA60","p":3971},{"i":49.9,"m":"MA60","p":3977},
      {"i":53.7,"m":"MA60","p":3989},{"i":56.6,"m":"MA60","p":3993},{"i":61.4,"m":"MA60","p":3997},{"i":62.8,"m":"MA60","p":4003},
      {"i":65.6,"m":"MA60","p":4009},{"i":68.5,"m":"MA60","p":4023},{"i":71.4,"m":"MA60","p":4037},{"i":74.2,"m":"MA60","p":4047},
      {"i":77.1,"m":"MA60","p":4059},{"i":79.9,"m":"MA60","p":4069},{"i":82.3,"m":"MA60","p":4075},{"i":91.4,"m":"MA60","p":4075},
      {"i":93.7,"m":"MA60","p":4071},{"i":97.5,"m":"MA60","p":4067},{"i":101.4,"m":"MA60","p":4057},{"i":109,"m":"MA60","p":4055},
      {"i":114.7,"m":"MA60","p":4055},{"i":116.6,"m":"MA60","p":4061},{"i":119.5,"m":"MA60","p":4067},{"i":122.8,"m":"MA60","p":4069},
      {"i":125.6,"m":"MA60","p":4069},{"i":128.5,"m":"MA60","p":4065},{"i":131.8,"m":"MA60","p":4063},{"i":135.6,"m":"MA60","p":4057},
      {"i":138.5,"m":"MA60","p":4051},{"i":141.8,"m":"MA60","p":4053},{"i":144.7,"m":"MA60","p":4059},{"i":147.1,"m":"MA60","p":4067},
      {"i":149.4,"m":"MA60","p":4075},{"i":151.4,"m":"MA60","p":4081},{"i":154.2,"m":"MA60","p":4089},{"i":157.1,"m":"MA60","p":4089},
      {"i":159.9,"m":"MA60","p":4087},{"i":162.3,"m":"MA60","p":4083},{"i":164.7,"m":"MA60","p":4073},{"i":167.5,"m":"MA60","p":4065},
      {"i":170.4,"m":"MA60","p":4053},{"i":173.3,"m":"MA60","p":4039},{"i":176.1,"m":"MA60","p":4023},{"i":178,"m":"MA60","p":4009}
    ],
    "vma": [
      {"i":0,"m":"V10","v":66.7},{"i":3.5,"m":"V10","v":66.7},{"i":7.5,"m":"V10","v":65.7},{"i":9.5,"m":"V10","v":64.7},
      {"i":10.5,"m":"V10","v":63.7},{"i":13.5,"m":"V10","v":62.7},{"i":15.5,"m":"V10","v":61.7},{"i":19.5,"m":"V10","v":60.7},
      {"i":24.5,"m":"V10","v":59.7},{"i":27.5,"m":"V10","v":58.7},{"i":33.5,"m":"V10","v":57.7},{"i":41.5,"m":"V10","v":56.7},
      {"i":43.5,"m":"V10","v":57.7},{"i":45.6,"m":"V10","v":58.7},{"i":48.5,"m":"V10","v":59.7},{"i":52.5,"m":"V10","v":60.7},
      {"i":54.5,"m":"V10","v":61.7},{"i":62.5,"m":"V10","v":60.7},{"i":66.6,"m":"V10","v":61.7},{"i":69.5,"m":"V10","v":62.7},
      {"i":70.4,"m":"V10","v":63.7},{"i":73.5,"m":"V10","v":64.7},{"i":75.4,"m":"V10","v":65.7},{"i":78.5,"m":"V10","v":66.7},
      {"i":82.5,"m":"V10","v":67.7},{"i":85.4,"m":"V10","v":68.7},{"i":89.5,"m":"V10","v":69.7},{"i":95,"m":"V10","v":69.7},
      {"i":97.5,"m":"V10","v":68.7},{"i":100.5,"m":"V10","v":67.7},{"i":102.5,"m":"V10","v":66.7},{"i":106.5,"m":"V10","v":65.7},
      {"i":110.5,"m":"V10","v":64.7},{"i":114.5,"m":"V10","v":63.7},{"i":115.5,"m":"V10","v":64.7},{"i":121.5,"m":"V10","v":65.7},
      {"i":129.5,"m":"V10","v":64.7},{"i":133.8,"m":"V10","v":65.2},{"i":141.4,"m":"V10","v":63.7},{"i":153.5,"m":"V10","v":64.7},
      {"i":172.4,"m":"V10","v":63.7},{"i":176.4,"m":"V10","v":62.7},{"i":178,"m":"V10","v":62.7},

      {"i":0,"m":"V5","v":60.7},{"i":1.8,"m":"V5","v":62},{"i":2.5,"m":"V5","v":60.7},{"i":4.5,"m":"V5","v":60.7},
      {"i":6.1,"m":"V5","v":57.7},{"i":6.8,"m":"V5","v":58.7},{"i":7.8,"m":"V5","v":57},{"i":9.5,"m":"V5","v":52.7},
      {"i":10.6,"m":"V5","v":51.7},{"i":12.1,"m":"V5","v":47.7},{"i":16.1,"m":"V5","v":47.7},{"i":18,"m":"V5","v":49.7},
      {"i":19.9,"m":"V5","v":50.7},{"i":20.9,"m":"V5","v":52.7},{"i":22.3,"m":"V5","v":53.7},{"i":25.6,"m":"V5","v":51.7},
      {"i":26.6,"m":"V5","v":50.7},{"i":31.4,"m":"V5","v":50.7},{"i":32.8,"m":"V5","v":52.7},{"i":35.2,"m":"V5","v":52.7},
      {"i":37.1,"m":"V5","v":57.7},{"i":39,"m":"V5","v":64.7},{"i":41.4,"m":"V5","v":74.7},{"i":43.1,"m":"V5","v":81.3},
      {"i":44.9,"m":"V5","v":83},{"i":45.6,"m":"V5","v":80.7},{"i":47.1,"m":"V5","v":76.3},{"i":48,"m":"V5","v":70.7},
      {"i":49.9,"m":"V5","v":71.3},{"i":50.9,"m":"V5","v":74.7},{"i":52.8,"m":"V5","v":80.7},{"i":53.9,"m":"V5","v":83.7},
      {"i":54.9,"m":"V5","v":83.7},{"i":56.1,"m":"V5","v":80.7},{"i":57.5,"m":"V5","v":78},{"i":58.5,"m":"V5","v":73},
      {"i":59.5,"m":"V5","v":66.3},{"i":60.9,"m":"V5","v":62.3},{"i":62.4,"m":"V5","v":57.3},{"i":63.8,"m":"V5","v":54.7},
      {"i":66.1,"m":"V5","v":52.7},{"i":67.5,"m":"V5","v":57.3},{"i":68.9,"m":"V5","v":63.7},{"i":70.4,"m":"V5","v":74.7},
      {"i":71.4,"m":"V5","v":78},{"i":73.3,"m":"V5","v":78.7},{"i":74.7,"m":"V5","v":77.3},{"i":76.1,"m":"V5","v":72},
      {"i":77.1,"m":"V5","v":71.3},{"i":78.5,"m":"V5","v":74.7},{"i":79.5,"m":"V5","v":76},{"i":80.9,"m":"V5","v":74.7},
      {"i":82.4,"m":"V5","v":72},{"i":83.8,"m":"V5","v":68},{"i":87.5,"m":"V5","v":69.7},{"i":89.5,"m":"V5","v":64.7},
      {"i":91.4,"m":"V5","v":61},{"i":93.2,"m":"V5","v":57.3},{"i":94.9,"m":"V5","v":53.7},{"i":98,"m":"V5","v":54.7},
      {"i":99.9,"m":"V5","v":57.3},{"i":100.6,"m":"V5","v":55.7},{"i":103.2,"m":"V5","v":55.7},{"i":105.6,"m":"V5","v":57.7},
      {"i":107.5,"m":"V5","v":60.3},{"i":110.4,"m":"V5","v":61.3},{"i":112.3,"m":"V5","v":62.7},{"i":114.2,"m":"V5","v":66},
      {"i":116.1,"m":"V5","v":70.7},{"i":118,"m":"V5","v":72},{"i":119.5,"m":"V5","v":74},{"i":120.4,"m":"V5","v":73.7},
      {"i":122.8,"m":"V5","v":68},{"i":124.7,"m":"V5","v":64.7},{"i":125.6,"m":"V5","v":63.7},{"i":128,"m":"V5","v":65.3},
      {"i":128.9,"m":"V5","v":63.7},{"i":130.9,"m":"V5","v":67.7},{"i":132.8,"m":"V5","v":67.7},{"i":135,"m":"V5","v":66},
      {"i":137.4,"m":"V5","v":64},{"i":138.5,"m":"V5","v":62},{"i":141.4,"m":"V5","v":64.7},{"i":145.2,"m":"V5","v":67},
      {"i":148.1,"m":"V5","v":68.7},{"i":150.5,"m":"V5","v":66},{"i":153.4,"m":"V5","v":65.7},{"i":155.7,"m":"V5","v":62.3},
      {"i":157.6,"m":"V5","v":57},{"i":158.5,"m":"V5","v":56},{"i":160.5,"m":"V5","v":56},{"i":161.4,"m":"V5","v":58},
      {"i":164.2,"m":"V5","v":59},{"i":166.2,"m":"V5","v":64.7},{"i":168.1,"m":"V5","v":65.7},{"i":170,"m":"V5","v":59.7},
      {"i":171.4,"m":"V5","v":54},{"i":172.8,"m":"V5","v":53.7},{"i":175.2,"m":"V5","v":56},{"i":178,"m":"V5","v":58}
    ]
  },
  "layer": [
    {
      "layer": [
        {
          "data": {"values": [{"p": 4145}, {"p": 3993}, {"p": 3843}, {"p": 3689}]},
          "mark": {"type": "rule", "color": "#8c0000", "strokeWidth": 1, "strokeDash": [1, 3]},
          "encoding": {
            "y": {"field": "p", "type": "quantitative", "scale": {"domain": [3297, 4283], "nice": false, "zero": false}, "axis": null}
          }
        },
        {
          "data": {"values": [{"p": 3905}]},
          "mark": {"type": "rule", "color": "#d23c3c", "strokeWidth": 1, "strokeDash": [4, 3]},
          "encoding": {
            "y": {"field": "p", "type": "quantitative", "scale": {"domain": [3297, 4283], "nice": false, "zero": false}, "axis": null}
          }
        },
        {
          "data": {"name": "k"},
          "mark": {"type": "rule", "strokeWidth": 1},
          "encoding": {
            "x": {"field": "i", "type": "quantitative", "scale": {"domain": [-0.0714, 179.4286], "nice": false, "zero": false}, "axis": null},
            "y": {"field": "l", "type": "quantitative", "scale": {"domain": [3297, 4283], "nice": false, "zero": false}, "axis": null},
            "y2": {"field": "h"},
            "stroke": {"field": "d", "type": "nominal", "scale": {"domain": ["u", "d"], "range": ["#ff3232", "#54fcfc"]}, "legend": null}
          }
        },
        {
          "data": {"name": "k"},
          "mark": {"type": "bar", "size": 4, "strokeWidth": 1},
          "encoding": {
            "x": {"field": "i", "type": "quantitative", "scale": {"domain": [-0.0714, 179.4286], "nice": false, "zero": false}, "axis": null},
            "y": {"field": "o", "type": "quantitative", "scale": {"domain": [3297, 4283], "nice": false, "zero": false}, "axis": null},
            "y2": {"field": "c"},
            "stroke": {"field": "d", "type": "nominal", "scale": {"domain": ["u", "d"], "range": ["#ff3232", "#54fcfc"]}, "legend": null},
            "fill": {"field": "d", "type": "nominal", "scale": {"domain": ["u", "d"], "range": ["#000000", "#54fcfc"]}, "legend": null}
          }
        },
        {
          "data": {"name": "ma"},
          "mark": {"type": "line", "strokeWidth": 1},
          "encoding": {
            "x": {"field": "i", "type": "quantitative", "scale": {"domain": [-0.0714, 179.4286], "nice": false, "zero": false}, "axis": null},
            "y": {"field": "p", "type": "quantitative", "scale": {"domain": [3297, 4283], "nice": false, "zero": false}, "axis": null},
            "color": {"field": "m", "type": "nominal", "scale": {"domain": ["MA5", "MA10", "MA20", "MA30", "MA60", "V5", "V10"], "range": ["#ffffff", "#ffff00", "#ff80ff", "#00dc00", "#1edcff", "#ffff00", "#ffffff"]}, "legend": null},
            "order": {"field": "i", "type": "quantitative"}
          }
        },
        {
          "data": {"values": [{"a": 119.3, "b": 120.8, "p": 4258.86}]},
          "mark": {"type": "rule", "color": "#a0a0a0", "strokeWidth": 1},
          "encoding": {
            "x": {"field": "a", "type": "quantitative", "scale": {"domain": [-0.0714, 179.4286], "nice": false, "zero": false}, "axis": null},
            "x2": {"field": "b"},
            "y": {"field": "p", "type": "quantitative", "scale": {"domain": [3297, 4283], "nice": false, "zero": false}, "axis": null}
          }
        },
        {
          "data": {"values": [{"i": 121, "p": 4258.86, "t": "4258.86"}]},
          "mark": {"type": "text", "align": "left", "baseline": "middle", "font": "Liberation Sans", "fontSize": 12, "color": "#c4ccd4"},
          "encoding": {
            "x": {"field": "i", "type": "quantitative", "scale": {"domain": [-0.0714, 179.4286], "nice": false, "zero": false}, "axis": null},
            "y": {"field": "p", "type": "quantitative", "scale": {"domain": [3297, 4283], "nice": false, "zero": false}, "axis": null},
            "text": {"field": "t"}
          }
        },
        {
          "data": {"values": [{"i": 2, "p": 4279}, {"i": 9, "p": 4279}, {"i": 11, "p": 4279}, {"i": 18, "p": 4279}, {"i": 27, "p": 4279}, {"i": 44, "p": 4279}]},
          "mark": {"type": "point", "shape": "triangle-down", "filled": true, "size": 26, "color": "#1e96d2", "opacity": 1},
          "encoding": {
            "x": {"field": "i", "type": "quantitative", "scale": {"domain": [-0.0714, 179.4286], "nice": false, "zero": false}, "axis": null},
            "y": {"field": "p", "type": "quantitative", "scale": {"domain": [3297, 4283], "nice": false, "zero": false}, "axis": null}
          }
        }
      ]
    },
    {
      "layer": [
        {
          "data": {"values": [{"v": 95}, {"v": 48}]},
          "mark": {"type": "rule", "color": "#8c0000", "strokeWidth": 1, "strokeDash": [1, 3]},
          "encoding": {
            "y": {"field": "v", "type": "quantitative", "scale": {"domain": [-5, 488], "nice": false, "zero": false}, "axis": null}
          }
        },
        {
          "data": {"values": [{"v": 116, "s": "top"}, {"v": 0, "s": "base"}]},
          "mark": {"type": "rule", "strokeWidth": 1},
          "encoding": {
            "y": {"field": "v", "type": "quantitative", "scale": {"domain": [-5, 488], "nice": false, "zero": false}, "axis": null},
            "stroke": {"field": "s", "type": "nominal", "scale": {"domain": ["top", "base"], "range": ["#a00000", "#c82828"]}, "legend": null}
          }
        },
        {
          "data": {"name": "k"},
          "mark": {"type": "bar", "size": 4, "strokeWidth": 1},
          "encoding": {
            "x": {"field": "i", "type": "quantitative", "scale": {"domain": [-0.0714, 179.4286], "nice": false, "zero": false}, "axis": null},
            "y": {"field": "v", "type": "quantitative", "scale": {"domain": [-5, 488], "nice": false, "zero": false}, "axis": null},
            "y2": {"datum": 0},
            "stroke": {"field": "d", "type": "nominal", "scale": {"domain": ["u", "d"], "range": ["#ff3232", "#54fcfc"]}, "legend": null},
            "fill": {"field": "d", "type": "nominal", "scale": {"domain": ["u", "d"], "range": ["#000000", "#54fcfc"]}, "legend": null}
          }
        },
        {
          "data": {"name": "vma"},
          "mark": {"type": "line", "strokeWidth": 1},
          "encoding": {
            "x": {"field": "i", "type": "quantitative", "scale": {"domain": [-0.0714, 179.4286], "nice": false, "zero": false}, "axis": null},
            "y": {"field": "v", "type": "quantitative", "scale": {"domain": [-5, 488], "nice": false, "zero": false}, "axis": null},
            "color": {"field": "m", "type": "nominal", "scale": {"domain": ["MA5", "MA10", "MA20", "MA30", "MA60", "V5", "V10"], "range": ["#ffffff", "#ffff00", "#ff80ff", "#00dc00", "#1edcff", "#ffff00", "#ffffff"]}, "legend": null},
            "order": {"field": "i", "type": "quantitative"}
          }
        }
      ]
    }
  ],
  "resolve": {"scale": {"y": "independent"}}
}
